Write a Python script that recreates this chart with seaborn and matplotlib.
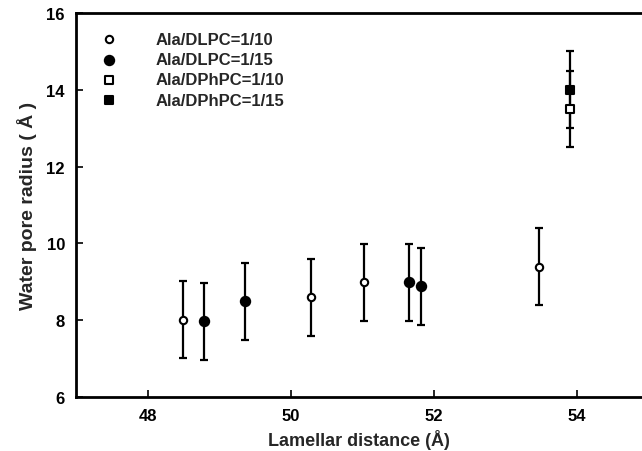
import matplotlib
matplotlib.use("Agg")
import matplotlib.pyplot as plt
import seaborn as sns
import pandas as pd

sns.set_theme(style="white")
plt.rcParams['font.family'] = ['Liberation Sans', 'DejaVu Sans']

# Data
series_names = ["Ala/DLPC=1/10", "Ala/DLPC=1/15", "Ala/DPhPC=1/10", "Ala/DPhPC=1/15"]
dlpc10_x = [48.49, 50.28, 51.03, 53.47]
dlpc10_y = [8.01, 8.60, 8.99, 9.39]
dlpc15_x = [48.79, 49.36, 51.65, 51.82]
dlpc15_y = [7.97, 8.49, 8.99, 8.88]
dphpc10_x = [53.90]
dphpc10_y = [13.5]
dphpc15_x = [53.90]
dphpc15_y = [14.0]
err = 1.0

xs = [dlpc10_x, dlpc15_x, dphpc10_x, dphpc15_x]
ys = [dlpc10_y, dlpc15_y, dphpc10_y, dphpc15_y]
markers = ["o", "o", "s", "s"]
faces = ["white", "black", "white", "black"]
sizes = [28, 45, 28, 36]

fig = plt.figure(figsize=(6.42, 4.52), dpi=100)
ax = fig.add_axes([76/642, 54/452, 1 - 76/642, 384/452])

frames = []
for name, x, y in zip(series_names, xs, ys):
    frames.append(pd.DataFrame({"x": x, "y": y, "series": name}))
df = pd.concat(frames, ignore_index=True)

for name, m, fc, s in zip(series_names, markers, faces, sizes):
    sub = df[df["series"] == name]
    ax.errorbar(sub["x"], sub["y"], yerr=err, fmt="none", ecolor="black",
                elinewidth=1.6, capsize=2.6, capthick=1.6, zorder=2)
    sns.scatterplot(data=sub, x="x", y="y", marker=m, s=s, color=fc,
                    edgecolor="black", linewidth=1.5, ax=ax, label=name,
                    zorder=3)

ax.set_xlim(47, 47 + (642 - 76) / 71.55)
ax.set_ylim(6, 16)
ax.set_xticks([48, 50, 52, 54])
ax.set_yticks([6, 8, 10, 12, 14, 16])
ax.tick_params(direction="in", length=5, width=1.2, labelsize=12,
               bottom=True, left=True, colors="black", pad=8)
for lab in ax.get_xticklabels() + ax.get_yticklabels():
    lab.set_fontweight("bold")
for side in ["left", "bottom", "top"]:
    ax.spines[side].set_color("black")
    ax.spines[side].set_linewidth(2.0)
ax.spines["right"].set_visible(False)

ax.set_xlabel("Lamellar distance (Å)", fontsize=13, fontweight="bold", labelpad=4)
ax.set_ylabel("Water pore radius ( Å )", fontsize=14, fontweight="bold", labelpad=7)

leg = ax.legend(loc="upper left", bbox_to_anchor=(0.005, 0.982), frameon=False,
                fontsize=12, handletextpad=1.7, labelspacing=0.32,
                borderaxespad=0.3, handlelength=2.2)
for t in leg.get_texts():
    t.set_fontweight("bold")

fig.savefig("out.png", dpi=100)
